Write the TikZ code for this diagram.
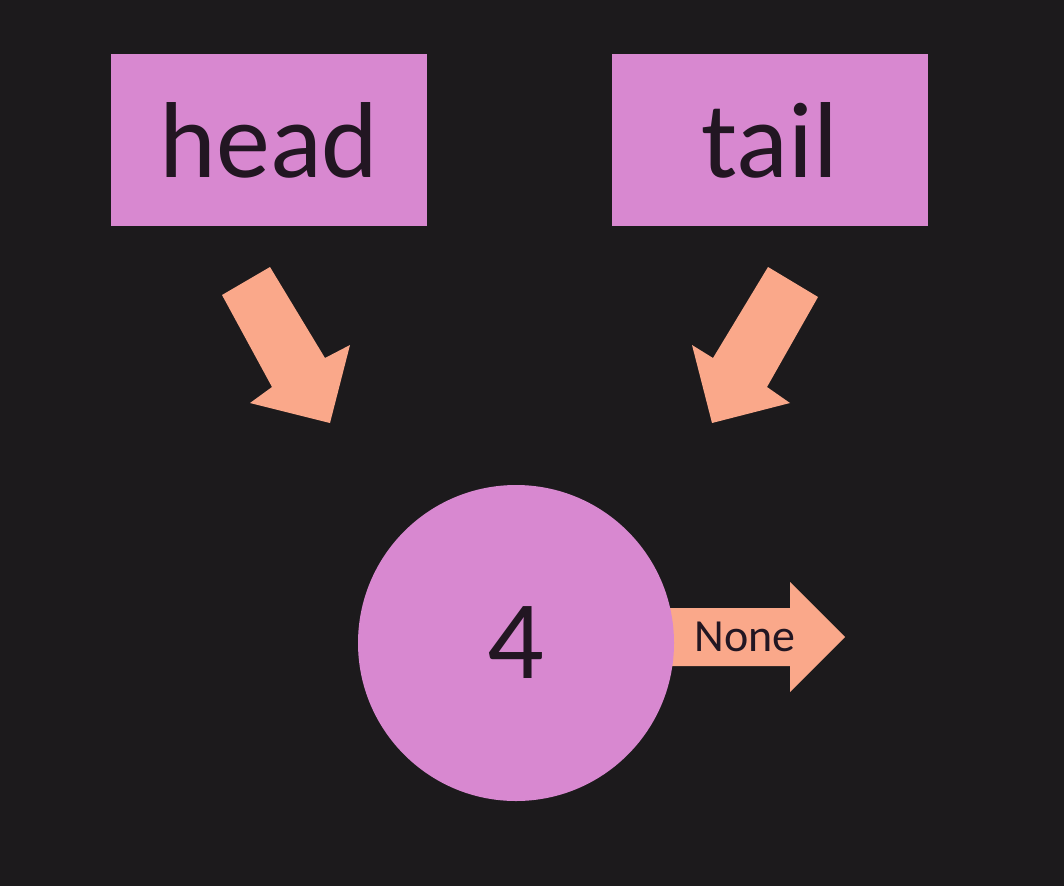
\documentclass[tikz,border=0pt]{standalone}
\usepackage{fontspec}
\setmainfont{Carlito}
\usetikzlibrary{calc}
\definecolor{bg}{RGB}{28,26,28}
\definecolor{boxpink}{RGB}{216,136,208}
\definecolor{arrowor}{RGB}{250,168,138}
\definecolor{ink}{RGB}{34,22,34}
\begin{document}
\begin{tikzpicture}[x=1pt,y=-1pt,
  box/.style={fill=boxpink,draw=none,minimum width=316pt,minimum height=172pt,inner sep=0pt,text=ink,font=\fontsize{108}{120}\selectfont},
  nodec/.style={circle,fill=boxpink,draw=none,minimum size=316pt,inner sep=0pt,text=ink,font=\fontsize{112}{120}\selectfont},
  blockarrow/.style={fill=arrowor,draw=none}]
\fill[bg] (0,0) rectangle (1064,886);
\useasboundingbox (0,0) rectangle (1064,886);
\node[box] (head) at (269,140) {head};
\node[box] (tail) at (770,140) {tail};
% None arrow (drawn under the circle)
\coordinate (base) at (660,637);
\coordinate (tip) at (845,637);
\fill[blockarrow] ($(base)+(0,-29)$) -- (790,608) -- (790,582) -- (tip) -- (790,692) -- (790,666) -- ($(base)+(0,29)$) -- cycle;
\node[text=ink,font=\fontsize{46}{50}\selectfont,inner sep=0pt] (none) at (745,637) {None};
\node[nodec] (n4) at (516,643) {4};
% pointer arrows
\fill[blockarrow] (222,295) -- (270,267) -- (325,358) -- (350,345) -- (330,423) -- (250,403) -- (272,387) -- cycle;
\fill[blockarrow] (818,297) -- (768,267) -- (713,358) -- (692,345) -- (712,423) -- (790,403) -- (767,387) -- cycle;
\end{tikzpicture}
\end{document}
